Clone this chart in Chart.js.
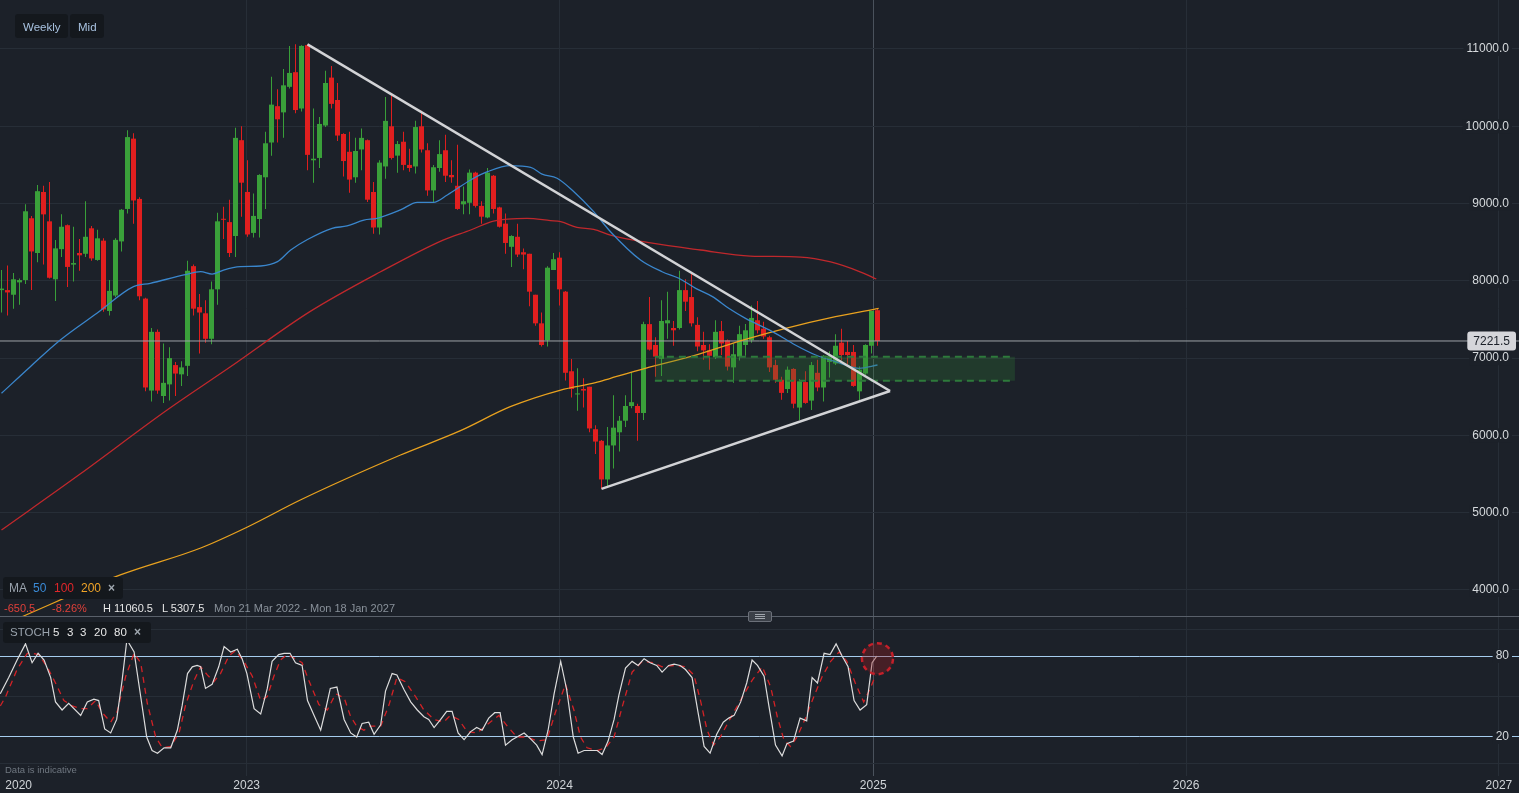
<!DOCTYPE html>
<html>
<head>
<meta charset="utf-8">
<title>Weekly chart</title>
<script src="https://cdn.jsdelivr.net/npm/chart.js@4.4.1/dist/chart.umd.min.js"></script>
<style>
  html, body { margin: 0; padding: 0; }
  body { background: #1c2129; width: 1519px; height: 793px; overflow: hidden; position: relative; font-family: "Liberation Sans", Arial, sans-serif; }
  canvas { position: absolute; left: 0; }
  #priceChart { top: 0; }
  #stochChart { top: 617px; }
  .box { position: absolute; background: #14181d; border-radius: 3px; }
  .t { position: absolute; white-space: nowrap; line-height: 12px; font-size: 11px; }
  #sep { position: absolute; left: 0; top: 616px; width: 1519px; height: 1px; background: #59606a; }
  #handle { position: absolute; left: 748px; top: 611px; width: 22px; height: 9px; background: #3b4048; border: 1px solid #6b7079; border-radius: 2px; }
  #handle i { position: absolute; left: 6px; width: 10px; height: 1px; background: #a0a6ad; }
</style>
</head>
<body>
<canvas id="priceChart" width="1519" height="617"></canvas>
<canvas id="stochChart" width="1519" height="176"></canvas>
<div id="sep"></div>
<div id="handle"><i style="top:2px"></i><i style="top:4px"></i><i style="top:6px"></i></div>

<div class="box" style="left:15px;top:14px;width:53px;height:24px"></div>
<div class="box" style="left:70px;top:14px;width:34px;height:24px"></div>
<div class="t" style="left:23px;top:21px;font-size:11.5px;color:#a8c2e0">Weekly</div>
<div class="t" style="left:78px;top:21px;font-size:11.5px;color:#a8c2e0">Mid</div>

<div class="box" style="left:3px;top:577px;width:120px;height:22px"></div>
<div class="t" style="left:9px;top:582px;font-size:12px;color:#99a2ac">MA</div>
<div class="t" style="left:33px;top:582px;font-size:12px;color:#3a8ad6">50</div>
<div class="t" style="left:54px;top:582px;font-size:12px;color:#e0262a">100</div>
<div class="t" style="left:81px;top:582px;font-size:12px;color:#f0a428">200</div>
<div class="t" style="left:108px;top:582px;font-size:12px;font-weight:bold;color:#a0a8b0">×</div>

<div class="t" style="left:4px;top:602px;color:#e0403a">-650.5</div>
<div class="t" style="left:52px;top:602px;color:#e0403a">-8.26%</div>
<div class="t" style="left:103px;top:602px;color:#e6e6e6">H 11060.5</div>
<div class="t" style="left:162px;top:602px;color:#e6e6e6">L 5307.5</div>
<div class="t" style="left:214px;top:602px;color:#89919a">Mon 21 Mar 2022 - Mon 18 Jan 2027</div>

<div class="box" style="left:3px;top:622px;width:148px;height:21px"></div>
<div class="t" style="left:10px;top:626px;font-size:11.5px;color:#99a2ac">STOCH</div>
<div class="t" style="left:53px;top:626px;font-size:11.5px;color:#e8e8e8">5</div>
<div class="t" style="left:67px;top:626px;font-size:11.5px;color:#e8e8e8">3</div>
<div class="t" style="left:80px;top:626px;font-size:11.5px;color:#e8e8e8">3</div>
<div class="t" style="left:94px;top:626px;font-size:11.5px;color:#e8e8e8">20</div>
<div class="t" style="left:114px;top:626px;font-size:11.5px;color:#e8e8e8">80</div>
<div class="t" style="left:134px;top:626px;font-size:12px;font-weight:bold;color:#a0a8b0">×</div>

<div class="t" style="left:5px;top:764px;font-size:9.5px;color:#6f7780">Data is indicative</div>

<script>
// weekly candles, week 0 = Mon 21 Mar 2022
const opens  = [7880,7880,7820,7980,8010,8810,8360,9150,8770,8020,8410,8720,8210,8360,8350,8680,8270,8520,7610,7810,
                8510,8930,9840,9060,7770,6580,7340,6510,6660,6910,6790,6900,8190,7660,7580,7250,7890,8800,8760,8580,
                9820,9150,8620,8800,9340,9790,10260,10180,10510,10700,10230,11050,9560,9590,10010,10630,10340,9900,9670,9340,
                9700,9820,9150,8690,9480,10000,9620,9800,9500,9480,10000,9690,9170,9460,9690,9370,9230,8990,9010,9400,
                8970,8820,9360,8950,8740,8440,8570,8370,8350,7820,7450,7230,8140,8300,7860,6830,6530,6600,6630,6080,
                5930,5430,5870,6040,6190,6380,6380,6290,7440,7170,6990,7450,7390,7390,7880,7790,7430,7170,7100,7010,
                7350,7230,6880,7020,7170,7230,7490,7380,7270,6910,6720,6600,6860,6360,6690,6450,6810,6620,6950,6930,
                7200,7080,7080,6570,6800,7160,7620];
const highs  = [8140,8200,8100,8030,8990,8840,9240,9230,9280,8530,8860,8730,8700,8540,9030,8710,8660,8550,8010,8550,
                8930,9950,9910,9080,7780,7390,7370,7190,7140,6950,6960,8260,8210,7830,7750,7990,8880,8960,9050,9980,
                10000,9560,9130,9380,9930,10640,10480,10740,11040,11060,11050,11060.5,10230,10120,10720,10780,10560,9910,9930,9850,
                9970,9830,9280,9560,10380,10430,9810,9930,9710,10070,10200,9780,9500,9820,9890,9560,9760,9220,9440,9410,
                9030,9460,9370,8960,8870,8590,8740,8420,8350,7820,7590,8190,8360,8370,7870,6990,6870,6740,6630,6130,
                5940,6110,6520,6250,6520,6820,6410,7470,7790,7270,7750,7860,7480,8130,8020,8100,7530,7340,7180,7490,
                7480,7240,7190,7420,7440,7680,7740,7470,7290,6980,6760,6890,6870,6730,6830,6950,6980,7040,7090,7310,
                7380,7220,7170,6890,7180,7610,7640];
const lows   = [7590,7550,7640,7690,7960,7880,8240,8210,8030,7740,8310,7920,7990,8130,8310,8260,8260,7600,7550,7790,
                8380,8870,8740,7750,6570,6440,6540,6420,6450,6510,6640,6770,7550,7060,7200,7180,7690,8540,8310,8310,
                8830,8570,8560,8560,8930,9620,9790,9850,10490,10170,10190,9430,9270,9460,9990,10230,9810,9350,9140,9270,
                9430,9020,8610,8600,9320,9570,9400,9430,9410,9390,9660,9100,9020,9410,9280,9270,8920,8860,8860,8950,
                8740,8810,8870,8690,8350,8180,8310,8150,7670,7420,7150,7150,8140,7680,6710,6490,6320,6360,6040,5760,
                5307.5,5340,5570,5790,6110,6350,5930,6200,7100,6760,6770,7250,7160,7370,7610,7410,7090,6980,6850,6990,
                7040,6840,6680,6970,7030,7200,7320,7250,6820,6680,6460,6550,6350,6200,6410,6330,6570,6440,6750,6910,
                6970,6920,6630,6440,6780,7060,7160];
const closes = [7900,7850,8020,8010,8900,8380,9160,8860,8040,8420,8700,8180,8230,8330,8570,8290,8550,7630,7870,8530,
                8920,9860,9040,7800,6620,7340,6580,6680,7000,6800,6880,8130,7640,7590,7250,7890,8770,8790,8360,9850,
                9270,8600,8840,9370,9780,10280,10090,10530,10690,10210,11040,9630,9580,10030,10560,10290,9880,9550,9310,9680,
                9850,9050,8690,9530,10070,9590,9770,9500,9460,9990,9700,9170,9470,9640,9360,9340,8930,9030,9400,8970,
                8830,9400,8930,8700,8490,8580,8340,8340,7860,7450,7170,8170,8280,7890,6810,6600,6540,6580,6090,5920,
                5430,5870,6100,6190,6380,6430,6290,7440,7110,7020,7480,7490,7360,7880,7730,7450,7150,7100,7030,7340,
                7190,6890,7050,7310,7360,7520,7360,7280,6880,6720,6550,6850,6410,6700,6420,6910,6620,7030,7010,7160,
                7040,7040,6640,6850,7170,7610,7221.5];

// moving averages as [week, value]
const ma50 = [[0,6545],[4.8,6889],[9.8,7234],[15.9,7580],[22,7924],[24.8,7968],[30.4,8076],[33.2,8118],[35.1,8088],
  [37,8140],[39.8,8183],[43.2,8192],[46,8248],[48.2,8399],[51,8535],[55.1,8680],[57.6,8710],[60.4,8787],[62.6,8809],
  [66.5,8917],[69.3,9016],[72,9016],[74.3,9111],[78.2,9305],[81,9412],[84.8,9490],[88.2,9469],[90.1,9382],[92.6,9327],
  [95.4,9153],[98.7,8895],[101.5,8636],[106.5,8270],[110.1,8118],[112.9,8033],[115.7,7903],[118.5,7795],[121.2,7645],
  [124,7515],[125.7,7450],[129,7321],[132.3,7170],[135.7,7040],[139,6954],[142.9,6868],[146,6911]];
const ma100 = [[0,4776],[13.1,5500],[27.6,6329],[38.1,6885],[51.4,7601],[63.1,8114],[73.6,8528],[78.2,8658],[82,8774],
  [87.6,8809],[91.5,8778],[93.2,8765],[95.9,8693],[98.7,8667],[101.5,8593],[108.2,8490],[116.5,8399],[124.8,8321],
  [133.2,8308],[138.2,8244],[143.2,8114],[145.8,8024]];
const ma200 = [[0,3538],[3.7,3663],[19.8,4194],[33.2,4543],[41,4815],[49.8,5164],[66.5,5746],[76.5,6061],[84.8,6371],
  [93.2,6587],[99,6682],[101.5,6739],[107.3,6868],[115.7,7040],[124,7243],[130.7,7386],[139,7536],[146.2,7645]];

// stochastic 5,3,3 as [week, value]
const stochK = [[-0.2,52],[1.2,64],[2.6,77],[4.0,89],[5.1,75],[6.1,82],[7.1,77],[8.2,64],[9.0,46],[10.1,40],[11.2,45],
  [13.2,36],[14.3,46],[15.4,48],[16.2,47],[17.2,26],[18.2,23],[19.2,33],[20.1,62],[20.9,92],[22.1,83],[23.2,50],[24.2,20],
  [25.1,10],[26.0,8],[27.1,12],[28.2,12],[29.3,25],[30.1,43],[31.0,67],[31.8,72],[32.6,73],[33.2,72],[34.0,56],[35.1,59],
  [36.2,72],[37.1,87],[38.2,83],[39.3,85],[40.1,78],[40.9,67],[42.1,41],[43.2,37],[44.3,56],[45.1,76],[46.2,81],[47.1,82],
  [48.1,82],[49.0,75],[50.1,73],[51.0,47],[52.1,36],[53.2,25],[54.0,40],[54.8,56],[55.9,57],[57.1,33],[58.2,23],[59.2,20],
  [60.1,30],[61.2,31],[62.1,22],[63.2,29],[64.0,54],[65.1,67],[65.9,66],[67.1,55],[68.2,46],[69.3,40],[70.4,35],[71.2,33],
  [72.1,27],[73.2,33],[74.2,39],[75.1,39],[76.1,23],[77.1,18],[78.2,24],[79.2,27],[80.1,25],[81.2,34],[82.2,38],[83.1,38],
  [84.0,14],[85.1,18],[87.1,23],[88.1,19],[89.2,14],[90.1,7],[91.1,25],[92.1,52],[93.2,76],[94.2,55],[95.3,20],[96.1,8],
  [97.1,10],[99.3,10],[100.1,7],[101.1,17],[102.1,33],[102.9,51],[104.0,71],[105.1,76],[106.1,73],[107.1,78],[108.1,75],
  [109.2,73],[110.1,68],[111.2,73],[112.1,74],[113.1,73],[114.0,70],[115.1,64],[116.1,38],[117.1,13],[118.1,8],[119.2,22],
  [120.3,31],[121.2,34],[122.1,36],[123.2,46],[124.2,60],[125.1,77],[126.0,73],[127.1,65],[127.9,43],[129.0,14],[130.1,6],
  [130.9,15],[132.0,17],[133.1,34],[134.2,32],[135.1,64],[136.0,60],[137.1,82],[138.1,81],[139.1,89],[140.1,80],[141.1,72],
  [142.1,47],[143.1,40],[144.2,44],[145.1,75],[145.9,80]];
const stochD = [[-0.2,43],[0.7,50],[2.6,70],[4.3,82],[5.1,82],[6.2,81],[7.6,72],[9.0,60],[10.4,47],[11.8,43],[13.2,41],
  [14.3,41],[15.7,47],[16.8,38],[18.2,31],[19.3,39],[20.7,65],[22.1,82],[23.2,75],[24.3,45],[25.7,20],[26.8,12],[28.2,13],
  [29.6,23],[30.7,44],[32.1,62],[33.2,72],[34.3,66],[35.4,61],[36.5,67],[37.9,80],[39.0,84],[40.4,76],[41.8,65],[43.2,47],
  [44.3,50],[45.4,65],[46.5,77],[47.6,81],[49.0,78],[50.1,75],[51.2,62],[52.9,44],[54.3,40],[55.7,52],[57.1,49],[58.2,35],
  [59.2,28],[60.4,25],[61.5,28],[63.2,28],[64.6,44],[65.9,64],[67.3,61],[69.0,50],[70.4,40],[72.1,33],[73.7,31],[74.8,36],
  [76.2,33],[77.6,24],[79.3,23],[80.9,29],[82.9,36],[84.3,28],[85.9,20],[87.6,20],[89.3,17],[90.9,18],[92.3,38],[94.0,59],
  [95.4,40],[96.5,20],[97.6,12],[99.3,10],[100.7,12],[102.1,20],[103.5,43],[105.1,68],[106.8,76],[108.7,75],[110.1,72],
  [112.1,73],[114.0,72],[115.4,66],[116.5,47],[117.6,25],[118.7,14],[119.8,20],[121.5,34],[123.4,49],[125.1,62],[126.8,72],
  [128.2,57],[129.3,35],[130.4,18],[131.5,13],[132.6,20],[134.0,34],[135.4,50],[136.8,65],[138.2,76],[139.6,83],[140.9,76],
  [142.3,60],[143.7,46],[144.8,56],[145.7,66]];

// drawings
const triangleTop = [[51,11060.5],[148.1,6575]];
const triangleBottom = [[100,5307.5],[148.1,6575]];
const zoneWeeks = [108.9, 168.9];
const zonePrices = [7017, 6708];
const lastPrice = 7221.5;
const highlight = [146, 78];

// axes
const priceTicks = [4000,5000,6000,7000,8000,9000,10000,11000];
const stochTicks = [0,20,50,80,100];
const stochLevels = [20,80];
const yearLabels = ['2020','2023','2024','2025','2026','2027'];
const yearDates = ['2022-04-10','2023-01-01','2024-01-01','2025-01-01','2026-01-01','2027-01-01'];

const startDay = Date.parse('2022-03-21');
const weekOf = d => (Date.parse(d) - startDay) / 6048e5;
const yearWeeks = yearDates.map(weekOf);
const gridWeeks = yearWeeks.slice(1);
const crossWeek = weekOf('2025-01-01');

const bg = '#1c2129';
const gridColor = '#272e37';
const upColor = '#3aa03a';
const downColor = '#e01f1f';
const xMin = -0.25, xMax = 252.92;

const pts = arr => arr.map(p => ({ x: p[0], y: p[1] }));
const idx = opens.map((_, i) => i);
const candleColor = ctx => closes[ctx.dataIndex] >= opens[ctx.dataIndex] ? upColor : downColor;

function xAxis() {
  return {
    type: 'linear', min: xMin, max: xMax, offset: false,
    afterBuildTicks: s => { s.ticks = gridWeeks.map(v => ({ value: v })); },
    ticks: { display: false },
    grid: { color: c => Math.abs(c.tick.value - crossWeek) < 0.01 ? '#4a525c' : gridColor, drawTicks: false, offset: false },
    border: { display: false },
    afterFit: s => { s.height = 0; }
  };
}

function drawTag(ctx, text, x, y, back) {
  const w = ctx.measureText(text).width;
  ctx.fillStyle = back;
  ctx.fillRect(x - w - 3, y - 7, w + 6, 14);
  ctx.fillStyle = '#d6dadd';
  ctx.fillText(text, x, y);
}

const priceLabels = {
  id: 'priceLabels',
  afterDraw(chart) {
    const { ctx, chartArea, scales: { y } } = chart;
    const right = chartArea.right - 10;
    ctx.save();
    ctx.font = '12px "Liberation Sans", Arial, sans-serif';
    ctx.textAlign = 'right';
    ctx.textBaseline = 'middle';
    priceTicks.forEach(v => drawTag(ctx, v.toFixed(1), right, y.getPixelForValue(v), bg));
    const py = y.getPixelForValue(lastPrice);
    const txt = lastPrice.toFixed(1);
    const w = ctx.measureText(txt).width + 12;
    ctx.fillStyle = '#d5d6da';
    ctx.beginPath();
    ctx.roundRect(chartArea.right - 3 - w, py - 9.5, w, 19, 3);
    ctx.fill();
    ctx.fillStyle = '#1c2129';
    ctx.textAlign = 'center';
    ctx.fillText(txt, chartArea.right - 3 - w / 2, py + 0.5);
    ctx.restore();
  }
};

const stochLabels = {
  id: 'stochLabels',
  afterDraw(chart) {
    const { ctx, chartArea, scales: { x, y } } = chart;
    ctx.save();
    // highlight circle
    const cx = x.getPixelForValue(highlight[0]);
    const cy = y.getPixelForValue(highlight[1]);
    ctx.beginPath();
    ctx.arc(cx, cy, 15.5, 0, Math.PI * 2);
    ctx.fillStyle = 'rgba(150,30,35,0.35)';
    ctx.fill();
    ctx.setLineDash([5, 4]);
    ctx.lineWidth = 2.5;
    ctx.strokeStyle = '#c4202a';
    ctx.stroke();
    ctx.setLineDash([]);

    ctx.font = '12px "Liberation Sans", Arial, sans-serif';
    ctx.textBaseline = 'middle';
    ctx.textAlign = 'right';
    stochLevels.forEach(v => drawTag(ctx, String(v), chartArea.right - 10, y.getPixelForValue(v), bg));
    ctx.textAlign = 'center';
    ctx.fillStyle = '#d0d4d8';
    yearLabels.forEach((lab, i) => ctx.fillText(lab, x.getPixelForValue(yearWeeks[i]), chartArea.bottom + 10));
    ctx.restore();
  }
};

const lineBase = { type: 'line', pointRadius: 0, fill: false };

new Chart(document.getElementById('priceChart'), {
  type: 'bar',
  data: {
    datasets: [
      { ...lineBase, label: 'Triangle top', data: pts(triangleTop), borderColor: '#d2d3d6', borderWidth: 2.5, order: 0 },
      { ...lineBase, label: 'Triangle bottom', data: pts(triangleBottom), borderColor: '#d2d3d6', borderWidth: 2.5, order: 0 },
      { ...lineBase, label: 'Zone top', data: zoneWeeks.map(w => ({ x: w, y: zonePrices[0] })),
        borderColor: '#2e7a3c', borderWidth: 2, borderDash: [7, 5], fill: '+1', backgroundColor: 'rgba(45,125,55,0.28)', order: 1 },
      { ...lineBase, label: 'Zone bottom', data: zoneWeeks.map(w => ({ x: w, y: zonePrices[1] })),
        borderColor: '#2e7a3c', borderWidth: 2, borderDash: [7, 5], order: 1 },
      { ...lineBase, label: 'MA 50', data: pts(ma50), borderColor: '#3a86cc', borderWidth: 1.3, cubicInterpolationMode: 'monotone', order: 2 },
      { ...lineBase, label: 'MA 100', data: pts(ma100), borderColor: '#c0282c', borderWidth: 1.3, cubicInterpolationMode: 'monotone', order: 2 },
      { ...lineBase, label: 'MA 200', data: pts(ma200), borderColor: '#e9a21f', borderWidth: 1.3, cubicInterpolationMode: 'monotone', order: 2 },
      { ...lineBase, label: 'Last', data: [{ x: xMin, y: lastPrice }, { x: xMax, y: lastPrice }], borderColor: '#9ea2a7', borderWidth: 1, order: 3 },
      { type: 'bar', label: 'Body', data: idx.map(i => ({ x: i, y: [opens[i], closes[i]] })), backgroundColor: candleColor,
        barThickness: 5, minBarLength: 1, grouped: false, inflateAmount: 0, borderWidth: 0, order: 4 },
      { type: 'bar', label: 'Wick', data: idx.map(i => ({ x: i, y: [lows[i], highs[i]] })), backgroundColor: candleColor,
        barThickness: 1, grouped: false, inflateAmount: 0, borderWidth: 0, order: 5 }
    ]
  },
  options: {
    responsive: false, animation: false, events: [],
    layout: { padding: 0, autoPadding: false },
    plugins: { legend: { display: false }, tooltip: { enabled: false } },
    scales: {
      x: xAxis(),
      y: {
        type: 'linear', position: 'right', min: 3650, max: 11634, beginAtZero: false,
        afterBuildTicks: s => { s.ticks = priceTicks.map(v => ({ value: v })); },
        ticks: { display: false },
        grid: { color: gridColor, drawTicks: false },
        border: { display: false },
        afterFit: s => { s.width = 0; }
      }
    }
  },
  plugins: [priceLabels]
});

new Chart(document.getElementById('stochChart'), {
  type: 'line',
  data: {
    datasets: [
      { label: '%K', data: pts(stochK), borderColor: '#dcdcdc', borderWidth: 1.2, pointRadius: 0, order: 0 },
      { label: '%D', data: pts(stochD), borderColor: '#d22226', borderWidth: 1.3, borderDash: [6, 5], pointRadius: 0, order: 1 }
    ]
  },
  options: {
    responsive: false, animation: false, events: [],
    layout: { padding: { top: 0, left: 0, right: 0, bottom: 17 }, autoPadding: false },
    plugins: { legend: { display: false }, tooltip: { enabled: false } },
    scales: {
      x: xAxis(),
      y: {
        type: 'linear', position: 'right', min: -8.89, max: 108.89,
        afterBuildTicks: s => { s.ticks = stochTicks.map(v => ({ value: v })); },
        ticks: { display: false },
        grid: { color: c => stochLevels.includes(c.tick.value) ? '#a6cdee' : gridColor, drawTicks: false },
        border: { display: false },
        afterFit: s => { s.width = 0; }
      }
    }
  },
  plugins: [stochLabels]
});
</script>
</body>
</html>
